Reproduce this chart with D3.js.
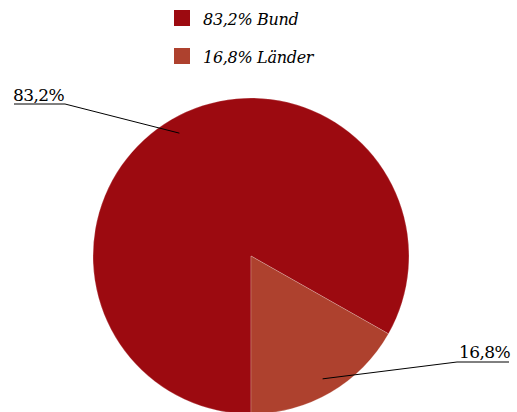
<!DOCTYPE html>
<html lang="de">
<head>
    <meta charset="UTF-8">
    <script src="https://d3js.org/d3.v7.min.js"></script>
    <title>Bund / Länder</title>
    <style>
        body { margin: 0; background: #fff; }
        text { font-family: "DejaVu Serif", serif; }
    </style>
</head>
<body>
    <script>
        var categories = ["Bund", "Länder"];
        var shares = [83.2, 16.8];
        var colors = ["#9c0a10", "#ae412e"];

        var width = 517, height = 412;
        var cx = 251, cy = 256, radius = 158;
        var fmt = function(v){ return d3.format(".1f")(v).replace(".", ",") + "%"; };

        var svg = d3.select("body").append("svg")
            .attr("width", width).attr("height", height);

        var details = categories.map(function(c, i){ return {name: c, value: shares[i], color: colors[i]}; });

        var pie = d3.pie().sort(null).value(function(d){ return d.value; })
            .startAngle(Math.PI).endAngle(3 * Math.PI);
        var arc = d3.arc().innerRadius(0).outerRadius(radius);
        var inner = d3.arc().innerRadius(radius * 0.9).outerRadius(radius * 0.9);

        var g = svg.append("g").attr("transform", "translate(" + cx + "," + cy + ")");
        var arcs = pie(details);

        g.selectAll("path").data(arcs).join("path")
            .attr("d", arc)
            .attr("fill", function(d){ return d.data.color; })
            .attr("stroke", "rgba(255,255,255,0.35)")
            .attr("stroke-width", 0.6);

        // leader lines with underlined labels
        var labelPos = [
            {x: 13, y: 101, anchor: "start", ux0: 14, ux1: 65, uy: 104},
            {x: 510, y: 358, anchor: "end", ux0: 457, ux1: 509, uy: 362}
        ];
        arcs.forEach(function(d, i){
            var p = inner.centroid(d);
            var L = labelPos[i];
            var near = L.anchor === "start" ? L.ux1 : L.ux0;
            svg.append("line")
                .attr("x1", L.ux0).attr("x2", L.ux1).attr("y1", L.uy).attr("y2", L.uy)
                .attr("stroke", "#000").attr("stroke-width", 1);
            svg.append("line")
                .attr("x1", near).attr("y1", L.uy)
                .attr("x2", cx + p[0]).attr("y2", cy + p[1])
                .attr("stroke", "#000").attr("stroke-width", 1);
            svg.append("text")
                .attr("x", L.x).attr("y", L.y)
                .attr("text-anchor", L.anchor)
                .style("font-size", "17px")
                .style("letter-spacing", "-0.6px")
                .text(fmt(d.data.value));
        });

        // legend
        var legend = svg.selectAll(".leg").data(details).join("g")
            .attr("class", "leg")
            .attr("transform", function(d, i){ return "translate(174," + (10 + i * 38) + ")"; });
        legend.append("rect").attr("width", 16).attr("height", 16)
            .attr("fill", function(d){ return d.color; });
        legend.append("text")
            .attr("x", 29).attr("y", 15)
            .style("font-style", "italic")
            .style("font-size", "16px")
            .style("letter-spacing", "-0.3px")
            .text(function(d){ return fmt(d.value) + " " + d.name; });
    </script>
</body>
</html>
